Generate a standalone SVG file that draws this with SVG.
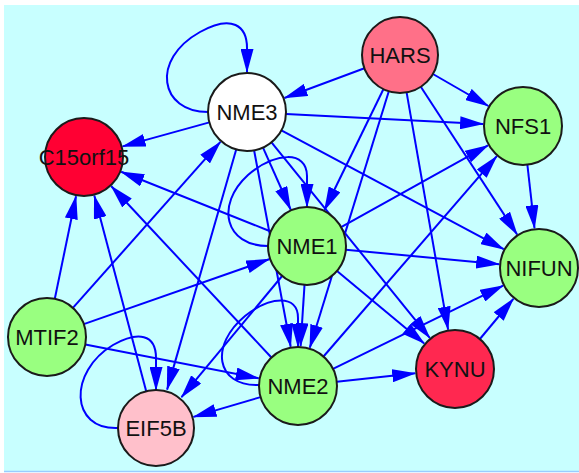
<svg xmlns="http://www.w3.org/2000/svg" width="579" height="473" viewBox="0 0 579 473">
<defs>
<marker id="ah" markerUnits="userSpaceOnUse" markerWidth="25" markerHeight="13" refX="23" refY="6.5" orient="auto">
<path d="M0,0 L24,6.5 L0,13 z" fill="#0000FF"/>
</marker>
<style>
.e{stroke:#0000FF;stroke-width:2;fill:none;marker-end:url(#ah)}
.n{stroke:#1a1a1a;stroke-width:2}
.t{font-family:"Liberation Sans",Arial,sans-serif;font-size:22px;fill:#111;text-anchor:middle}
</style>
</defs>
<rect x="0" y="0" width="579" height="473" fill="#FFFFFF"/>
<rect x="4" y="5" width="575" height="466" fill="#C8FFFF"/>
<line x1="4" y1="471.5" x2="579" y2="471.5" stroke="#99CCFF" stroke-width="1.5"/>
<g id="edges">
<line class="e" x1="364.4" y1="68.3" x2="284.5" y2="98"/>
<line class="e" x1="432.9" y1="74" x2="488.4" y2="106"/>
<line class="e" x1="383.4" y1="89.2" x2="324.5" y2="210"/>
<line class="e" x1="388.8" y1="91.3" x2="309.8" y2="347.8"/>
<line class="e" x1="406.6" y1="92.4" x2="448.1" y2="329.6"/>
<line class="e" x1="420.8" y1="86.8" x2="517.1" y2="234.5"/>
<line class="e" x1="209.4" y1="122.4" x2="122.6" y2="146.4"/>
<line class="e" x1="286" y1="114" x2="483.1" y2="124"/>
<line class="e" x1="281.4" y1="130.4" x2="503.7" y2="249.2"/>
<line class="e" x1="263" y1="147.6" x2="290.6" y2="209.5"/>
<line class="e" x1="254.1" y1="150.3" x2="290.7" y2="346.7"/>
<line class="e" x1="236.2" y1="149.5" x2="167.1" y2="389.6"/>
<line class="e" x1="271.5" y1="142.3" x2="429.8" y2="337.9"/>
<path class="e" d="M208,112 C160,112 150,60 200,32 C232,14 247,26 247,48 L247,72"/>
<line class="e" x1="527.4" y1="164.8" x2="534.5" y2="228.2"/>
<line class="e" x1="270.8" y1="231.5" x2="121.2" y2="171.8"/>
<line class="e" x1="341.1" y1="227.1" x2="488" y2="145.4"/>
<line class="e" x1="345.8" y1="249.7" x2="499.2" y2="264.2"/>
<line class="e" x1="337" y1="270.9" x2="424.2" y2="343.4"/>
<line class="e" x1="304.5" y1="284.9" x2="300.6" y2="346.1"/>
<line class="e" x1="282.1" y1="276" x2="181.5" y2="397.2"/>
<path class="e" d="M268,246 C225,246 215,205 248,175 C275,152 307,150 307,176 L307,207"/>
<line class="e" x1="54.8" y1="298.8" x2="76" y2="196.2"/>
<line class="e" x1="72.9" y1="307.9" x2="220.4" y2="141.9"/>
<line class="e" x1="83.8" y1="324.1" x2="269.2" y2="259.2"/>
<line class="e" x1="85.3" y1="344.5" x2="258.7" y2="378.3"/>
<line class="e" x1="271.4" y1="357.5" x2="111.3" y2="186.2"/>
<line class="e" x1="323.5" y1="356.5" x2="496.8" y2="156.2"/>
<line class="e" x1="333" y1="368.8" x2="503.1" y2="285.6"/>
<line class="e" x1="336.8" y1="381.8" x2="415.2" y2="373.3"/>
<line class="e" x1="260.6" y1="397.1" x2="193.4" y2="416.9"/>
<path class="e" d="M259,385 C215,386 210,345 245,316 C270,296 298,294 298,318 L298,347"/>
<line class="e" x1="146.2" y1="391.3" x2="94.3" y2="195.6"/>
<path class="e" d="M118,428 C70,430 68,372 113,345 C138,331 156,334 156,358 L156,390"/>
<line class="e" x1="479.9" y1="339" x2="513.4" y2="298.8"/>
</g>
<g id="HARS"><circle class="n" cx="400" cy="55" r="38" fill="#FF7088"/><text class="t" x="400" y="63">HARS</text></g>
<g id="NME3"><circle class="n" cx="247" cy="112" r="39" fill="#FFFFFF"/><text class="t" x="247" y="120">NME3</text></g>
<g id="C15orf15"><circle class="n" cx="84" cy="157" r="39" fill="#FF0033"/><text class="t" x="84" y="165">C15orf15</text></g>
<g id="NFS1"><circle class="n" cx="523" cy="126" r="39" fill="#99FF80"/><text class="t" x="523" y="134">NFS1</text></g>
<g id="NIFUN"><circle class="n" cx="539" cy="268" r="39" fill="#99FF80"/><text class="t" x="539" y="276">NIFUN</text></g>
<g id="NME1"><circle class="n" cx="307" cy="246" r="39" fill="#99FF80"/><text class="t" x="307" y="254">NME1</text></g>
<g id="MTIF2"><circle class="n" cx="47" cy="337" r="39" fill="#99FF80"/><text class="t" x="47" y="345">MTIF2</text></g>
<g id="NME2"><circle class="n" cx="298" cy="386" r="39" fill="#99FF80"/><text class="t" x="298" y="394">NME2</text></g>
<g id="EIF5B"><circle class="n" cx="156" cy="428" r="38" fill="#FFC0CB"/><text class="t" x="156" y="436">EIF5B</text></g>
<g id="KYNU"><circle class="n" cx="455" cy="369" r="39" fill="#FF2850"/><text class="t" x="455" y="377">KYNU</text></g>
</svg>
